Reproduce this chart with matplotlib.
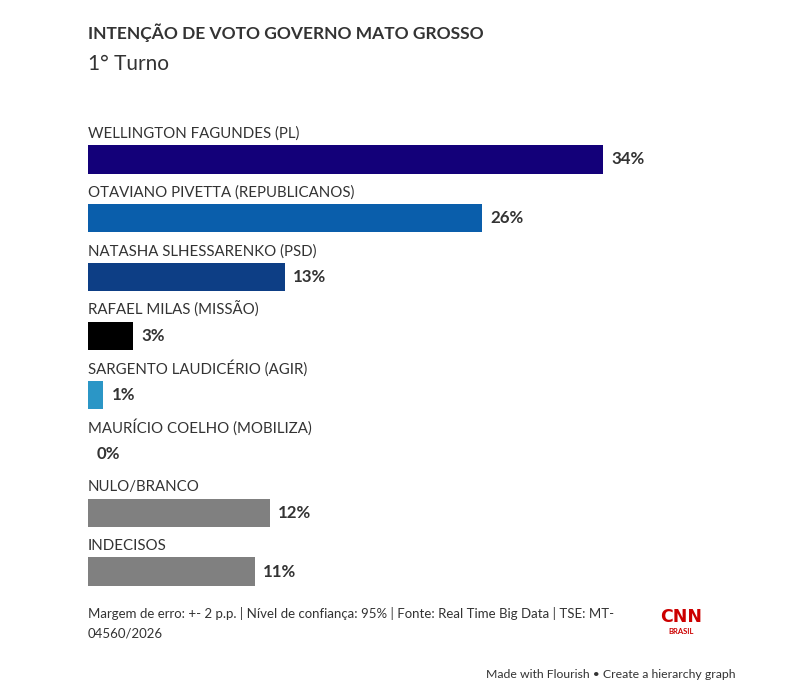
import matplotlib
matplotlib.use("Agg")
import matplotlib.pyplot as plt

categories = ["WELLINGTON FAGUNDES (PL)", "OTAVIANO PIVETTA (REPUBLICANOS)",
              "NATASHA SLHESSARENKO (PSD)", "RAFAEL MILAS (MISSÃO)",
              "SARGENTO LAUDICÉRIO (AGIR)", "MAURÍCIO COELHO (MOBILIZA)",
              "NULO/BRANCO", "INDECISOS"]
values = [34, 26, 13, 3, 1, 0, 12, 11]
value_labels = ["34%", "26%", "13%", "3%", "1%", "0%", "12%", "11%"]
colors = ["#130079", "#0a5eab", "#0d3e85", "#000000", "#2b96c6", "#2b96c6",
          "#808080", "#808080"]

FONT = "Lato"
W, H = 800, 695
fig = plt.figure(figsize=(W / 100, H / 100), dpi=100)
fig.patch.set_facecolor("white")

def fx(px):
    return px / W

def fy(py):
    return 1 - py / H

ax = fig.add_axes([fx(88), fy(586), fx(603) - fx(88), fy(145) - fy(586)])
ax.set_xlim(0, 34)
bh = 0.484
ax.set_ylim(len(values) - 1 + bh / 2, -bh / 2)
ax.axis("off")

ypos = list(range(len(values)))
ax.barh(ypos, values, height=bh, color=colors, edgecolor="none")

for i, (cat, v, lab) in enumerate(zip(categories, values, value_labels)):
    ax.text(0, i - bh / 2 - 0.07, cat, ha="left", va="bottom", fontsize=10.8,
            family=FONT, color="#333333", clip_on=False)
    ax.annotate(lab, xy=(v, i), xytext=(6, 0), textcoords="offset points",
                ha="left", va="center", fontsize=12.2, fontweight="bold",
                family=FONT, color="#333333", annotation_clip=False)

fig.text(fx(88), fy(33), "INTENÇÃO DE VOTO GOVERNO MATO GROSSO", ha="left", va="center",
         fontsize=12.5, fontweight="bold", family=FONT, color="#333333")
fig.text(fx(88), fy(64), "1° Turno", ha="left", va="center",
         fontsize=15, family=FONT, color="#333333")

fig.text(fx(88), fy(614), "Margem de erro: +- 2 p.p. | Nível de confiança: 95% | Fonte: Real Time Big Data | TSE: MT-",
         ha="left", va="center", fontsize=9.5, family=FONT, color="#333333")
fig.text(fx(88), fy(633), "04560/2026", ha="left", va="center",
         fontsize=9.5, family=FONT, color="#333333")

fig.text(fx(681), fy(617), "CNN", ha="center", va="center", fontsize=12.5,
         fontweight="bold", family="Liberation Sans Narrow", color="#cc0000")
fig.text(fx(681), fy(631), "BRASIL", ha="center", va="center", fontsize=5.5,
         fontweight="bold", family=FONT, color="#cc0000")

fig.text(fx(736), fy(675), "Made with Flourish • Create a hierarchy graph", ha="right", va="center",
         fontsize=8.8, family=FONT, color="#333333")

fig.savefig("out.png", dpi=100, facecolor="white")
